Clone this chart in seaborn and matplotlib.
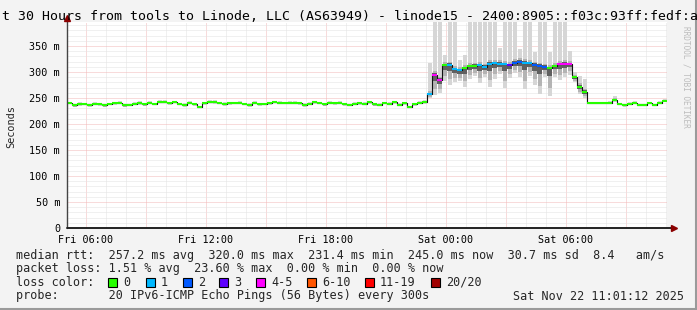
import numpy as np
import pandas as pd
import matplotlib
matplotlib.use("Agg")
import matplotlib.pyplot as plt
from matplotlib.patches import Rectangle
import seaborn as sns

# ---------------- data ----------------
title_text = "t 30 Hours from tools to Linode, LLC (AS63949) - linode15 - 2400:8905::f03c:93ff:fedf:a"
start_hour = 5.05          # Fri 05:03 (hours since Fri 00:00)
step_hours = 0.25
end_hour = 35.05

median_ms = [
    240, 236, 238, 238, 237, 239, 238, 236, 238, 240, 241, 236,
    237, 239, 240, 238, 241, 239, 242, 243, 241, 242, 239, 237,
    240, 238, 232, 241, 243, 242, 240, 239, 240, 240, 241, 239,
    237, 240, 238, 238, 240, 242, 241, 241, 241, 241, 240, 237,
    239, 242, 240, 238, 241, 240, 240, 238, 236, 239, 240, 239,
    242, 238, 237, 241, 239, 243, 237, 240, 233, 238, 241, 243,
    258, 295, 285, 313, 314, 305, 303, 307, 311, 312, 313, 310,
    316, 317, 316, 315, 313, 318, 320, 318, 317, 314, 312, 310,
    308, 311, 315, 316, 315, 290, 272, 262, 240, 240, 240, 240,
    241, 247, 238, 236, 239, 240, 237, 236, 240, 237, 241, 245,
]
lost_pings = [0] * 72 + [
    1, 4, 4, 0, 1, 1, 1, 0, 0, 0, 1, 1,
    1, 1, 1, 1, 3, 2, 2, 1, 1, 2, 2, 2,
    0, 0, 4, 4, 4, 0, 0, 0,
] + [0] * 16
spread_dn = [
    2, 4, 3, 2, 4, 2, 3, 4, 2, 3, 2, 4,
    3, 2, 3, 4, 2, 3, 2, 3, 4, 2, 3, 4,
    2, 3, 2, 4, 2, 3, 2, 4, 3, 2, 2, 3,
    4, 2, 3, 2, 3, 2, 2, 3, 2, 2, 3, 4,
    2, 3, 2, 4, 2, 3, 2, 3, 2, 2, 3, 2,
    3, 4, 2, 3, 2, 4, 2, 3, 2, 3, 2, 4,
    8, 40, 25, 30, 40, 25, 20, 35, 25, 20, 35, 20,
    45, 30, 20, 45, 25, 20, 30, 50, 25, 40, 55, 20,
    55, 20, 30, 25, 20, 10, 15, 12, 2, 2, 2, 2,
    3, 4, 2, 3, 2, 2, 3, 2, 2, 3, 2, 3,
]
spread_up = [
    3, 2, 4, 3, 2, 4, 3, 2, 3, 2, 4, 3,
    2, 3, 4, 2, 3, 2, 4, 3, 2, 3, 2, 3,
    4, 2, 3, 2, 3, 4, 2, 3, 2, 3, 3, 2,
    3, 4, 2, 3, 2, 3, 4, 2, 3, 3, 2, 3,
    4, 2, 3, 2, 3, 2, 4, 3, 2, 3, 2, 4,
    2, 3, 4, 2, 3, 2, 4, 3, 2, 3, 4, 3,
    60, 105, 115, 20, 90, 95, 20, 25, 90, 90, 85, 90,
    85, 85, 30, 85, 85, 80, 25, 80, 80, 25, 85, 90,
    30, 85, 85, 85, 25, 10, 20, 25, 3, 3, 3, 3,
    4, 6, 3, 2, 3, 4, 2, 3, 3, 2, 3, 3,
]

xtick_hours = [6, 12, 18, 24, 30]
xtick_labels = ["Fri 06:00", "Fri 12:00", "Fri 18:00", "Sat 00:00", "Sat 06:00"]
ytick_values = [0, 50, 100, 150, 200, 250, 300, 350]
ytick_labels = ["0", "50 m", "100 m", "150 m", "200 m", "250 m", "300 m", "350 m"]
y_max = 396

loss_labels = ["0", "1", "2", "3", "4-5", "6-10", "11-19", "20/20"]
loss_colors = ["#26ff00", "#00b8ff", "#0059ff", "#5e00ff", "#ff00ff", "#ff5500", "#ff0000", "#a10000"]
loss_upper = [0, 1, 2, 3, 5, 10, 19, 20]

rtt_line = "median rtt:  257.2 ms avg  320.0 ms max  231.4 ms min  245.0 ms now  30.7 ms sd  8.4   am/s"
loss_line = "packet loss: 1.51 % avg  23.60 % max  0.00 % min  0.00 % now"
probe_line = "probe:       20 IPv6-ICMP Echo Pings (56 Bytes) every 300s"
date_text = "Sat Nov 22 11:01:12 2025"

# ---------------- build ----------------
n = len(median_ms)
df = pd.DataFrame({
    "t": start_hour + step_hours * np.arange(n),
    "median": median_ms,
    "lost": lost_pings,
    "dn": spread_dn,
    "up": spread_up,
})
df["lo"] = df["median"] - df["dn"]
df["hi"] = df["median"] + df["up"]


def loss_color(k):
    for up, c in zip(loss_upper, loss_colors):
        if k <= up:
            return c
    return loss_colors[-1]


df["color"] = df["lost"].apply(loss_color)

sns.set_theme(style="white")
plt.rcParams["font.family"] = ["DejaVu Sans Mono"]

W, H = 697, 310
fig = plt.figure(figsize=(W / 100, H / 100), dpi=100, facecolor="#f3f3f3")
L, R, T, B = 67, 667, 22, 228
ax = fig.add_axes([L / W, 1 - B / H, (R - L) / W, (B - T) / H])
ax.set_facecolor("white")
ax.set_xlim(start_hour, end_hour)
ax.set_ylim(0, y_max)
for s in ax.spines.values():
    s.set_visible(False)

# grid (light dotted)
dots = (0, (1, 1))
for h in np.arange(6, 35.01, 1):
    major = (h % 3 == 0)
    ax.axvline(h, color="#f2b8b8" if major else "#e3e3e3", lw=0.72, ls=dots, zorder=0)
for v in np.arange(10, y_max, 10):
    major = (v % 50 == 0)
    ax.axhline(v, color="#f2b8b8" if major else "#e3e3e3", lw=0.72, ls=dots, zorder=0)

# smoke (light outer spikes, medium and dark cores)
spread = df["hi"] - df["lo"]
ax.bar(df["t"] + step_hours * 0.1, spread, bottom=df["lo"], width=step_hours * 0.8,
       align="edge", color="#d6d6d6", linewidth=0, zorder=1)
ax.bar(df["t"] + step_hours * 0.1, df["dn"] * 0.7 + np.minimum(df["up"], 12) * 0.5,
       bottom=df["median"] - df["dn"] * 0.7, width=step_hours * 0.8, align="edge",
       color="#b4b4b4", linewidth=0, zorder=1.1)
ax.bar(df["t"], df["dn"] * 0.3 + np.minimum(df["up"], 8) * 0.3,
       bottom=df["median"] - df["dn"] * 0.3, width=step_hours, align="edge",
       color="#606060", linewidth=0, zorder=1.2)

# median: black step underlay + colored segments
sns.lineplot(x=df["t"], y=df["median"], drawstyle="steps-post", color="#111111",
             lw=0.8, estimator=None, ax=ax, zorder=2)
for i in range(n):
    t0 = df["t"][i]
    m = df["median"][i]
    ax.plot([t0, t0 + step_hours], [m, m], color=df["color"][i], lw=1.5,
            solid_capstyle="butt", zorder=3)

# ticks
ax.set_xticks(xtick_hours, xtick_labels)
ax.set_yticks(ytick_values, ytick_labels)
ax.tick_params(axis="both", labelsize=7.3, length=2, width=0.7, color="#555555",
               labelcolor="black", pad=3)
ax.set_xlabel("")
ax.set_ylabel("")

# axes lines and arrows
ax.plot([0, 0], [0, 1.02], transform=ax.transAxes, color="#444444", lw=1.0, clip_on=False, zorder=5)
ax.plot([0, 1.01], [0, 0], transform=ax.transAxes, color="#222222", lw=1.4, clip_on=False, zorder=5)
ax.plot([0], [1.02], marker="^", ms=5, color="#8b0000", transform=ax.transAxes, clip_on=False, zorder=6)
ax.plot([1.012], [0], marker=">", ms=5, color="#8b0000", transform=ax.transAxes, clip_on=False, zorder=6)


# texts
def fx(px):
    return px / W


def fy(py):
    return 1 - py / H


fig.text(fx(2), fy(17), title_text, fontsize=9.5, ha="left", va="center", color="black")
fig.text(fx(11), fy(127), "Seconds", fontsize=7.4, rotation=90, ha="center", va="center")
fig.text(fx(686), fy(26), "RRDTOOL / TOBI OETIKER", fontsize=5.6, rotation=270,
         ha="center", va="top", color="#bcbcbc")

fs = 8.5
row_y = [255, 268.5, 282, 296]
fig.text(fx(16), fy(row_y[0]), rtt_line, fontsize=fs, va="center")
fig.text(fx(16), fy(row_y[1]), loss_line, fontsize=fs, va="center")
fig.text(fx(16), fy(row_y[2]), "loss color:", fontsize=fs, va="center")
for xp, lab, col in zip([108, 146, 183, 219, 256, 307, 365, 431], loss_labels, loss_colors):
    fig.patches.append(Rectangle((fx(xp), fy(row_y[2] + 4.5)), 8.5 / W, 8.5 / H,
                                 transform=fig.transFigure, facecolor=col,
                                 edgecolor="black", lw=0.8))
    fig.text(fx(xp + 15), fy(row_y[2]), lab, fontsize=fs, va="center")
fig.text(fx(16), fy(row_y[3]), probe_line, fontsize=fs, va="center")
fig.text(fx(513), fy(row_y[3]), date_text, fontsize=fs, va="center")

# frame shading
fig.add_artist(plt.Line2D([0, 1], [1 / H, 1 / H], transform=fig.transFigure, color="#9a9a9a", lw=1.5))
fig.add_artist(plt.Line2D([1 - 1 / W, 1 - 1 / W], [0, 1], transform=fig.transFigure, color="#9a9a9a", lw=1.5))

fig.savefig("out.png", dpi=100, facecolor=fig.get_facecolor())
